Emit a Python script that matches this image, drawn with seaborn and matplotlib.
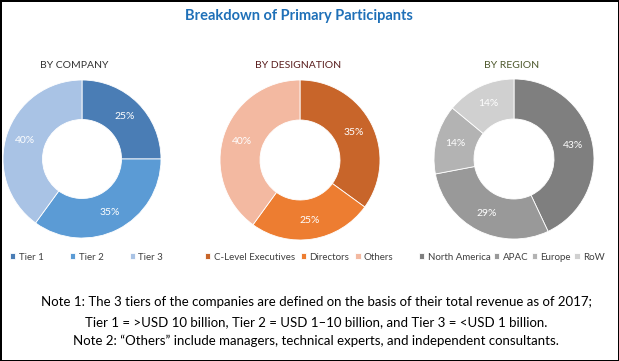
import matplotlib
matplotlib.use("Agg")
import matplotlib.pyplot as plt
import seaborn as sns

# Data
company_labels = ['Tier 1', 'Tier 2', 'Tier 3']
company_values = [25, 35, 40]
company_colors = ['#4a7db5', '#5b9bd5', '#a9c3e5']

designation_labels = ['C-Level Executives', 'Directors', 'Others']
designation_values = [35, 25, 40]
designation_colors = ['#c8652a', '#ed7d31', '#f3b9a1']

region_labels = ['North America', 'APAC', 'Europe', 'RoW']
region_values = [43, 29, 14, 14]
region_colors = ['#7f7f7f', '#999999', '#b3b3b3', '#d0d0d0']

title = "Breakdown of Primary Participants"
notes = [
    "Note 1: The 3 tiers of the companies are defined on the basis of their total revenue as of 2017;",
    "Tier 1 = >USD 10 billion, Tier 2 = USD 1\u201310 billion, and Tier 3 = <USD 1 billion.",
    "Note 2: \u201cOthers\u201d include managers, technical experts, and independent consultants.",
]

sns.set_theme(style="white")
plt.rcParams['font.family'] = ['Lato', 'DejaVu Sans']

W, H = 619, 361
fig = plt.figure(figsize=(W / 100, H / 100), dpi=100, linewidth=2, edgecolor='black')


def donut(cx, cy, r, values, colors, labels, subtitle, sub_color, sub_x,
          leg_x, colspace):
    ax = fig.add_axes([(cx - r) / W, (H - cy - r) / H, 2 * r / W, 2 * r / H])
    wedges, _, autotexts = ax.pie(
        values, colors=colors, startangle=90, counterclock=False,
        autopct=lambda p: f"{p:.0f}%", pctdistance=0.76,
        wedgeprops=dict(width=0.5, edgecolor='white', linewidth=0.6),
        textprops=dict(color='white', fontsize=7.5))
    ax.set_xlim(-1, 1)
    ax.set_ylim(-1, 1)
    ax.axis('off')
    fig.text(sub_x / W, 1 - 66 / H, subtitle, ha='center', va='center',
             fontsize=7.5, color=sub_color)
    fig.legend(wedges, labels, loc='center left',
               bbox_to_anchor=(leg_x / W, 1 - 257 / H), ncol=len(labels),
               frameon=False, fontsize=7, handlelength=0.55,
               handleheight=0.55, handletextpad=0.35,
               columnspacing=colspace, borderpad=0, borderaxespad=0,
               labelcolor='#404040')


donut(82, 159, 79, company_values, company_colors, company_labels,
      'BY COMPANY', '#333333', 74, 10, 2.7)
donut(300, 160, 80, designation_values, designation_colors, designation_labels,
      'BY DESIGNATION', '#5a1e1e', 298, 205, 0.6)
donut(514, 159, 80, region_values, region_colors, region_labels,
      'BY REGION', '#4f5a2e', 512, 419, 0.35)

fig.text(299 / W, 1 - 16 / H, title, ha='center', va='center',
         fontsize=10.5, fontweight='bold', color='#1f70b8')

for y, line in zip([302, 322, 341], notes):
    fig.text(316 / W, 1 - y / H, line, ha='center', va='center',
             fontsize=9.5, color='black')

fig.savefig('out.png', dpi=100, edgecolor=fig.get_edgecolor())
